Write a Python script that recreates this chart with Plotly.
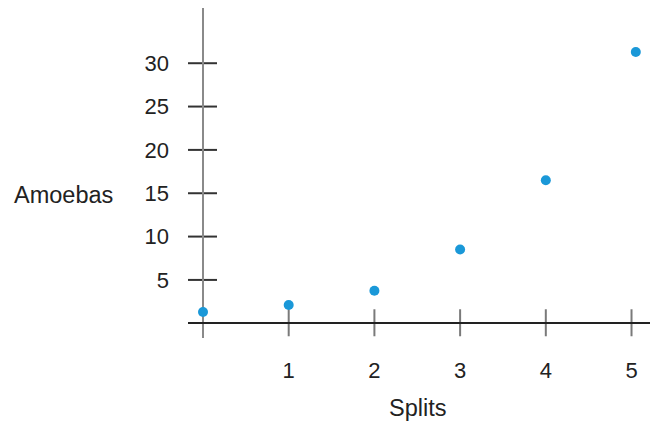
import plotly.graph_objects as go

splits = [0, 1, 2, 3, 4, 5.05]
amoebas = [1.3, 2.1, 3.75, 8.5, 16.5, 31.3]
x_ticks = [1, 2, 3, 4, 5]
y_ticks = [5, 10, 15, 20, 25, 30]

FONT = dict(family="Liberation Sans, Arial, sans-serif", size=22, color="#222222")
TITLE_FONT = dict(family="Liberation Sans, Arial, sans-serif", size=23.5, color="#222222")

fig = go.Figure()
fig.add_trace(go.Scatter(
    x=splits, y=amoebas, mode="markers",
    marker=dict(size=10, color="#1a98d8", line=dict(width=0)),
    cliponaxis=False, hoverinfo="x+y",
))

shapes = []
for t in [0] + x_ticks:
    shapes.append(dict(type="line", xref="x", yref="y", x0=t, x1=t,
                       ysizemode="pixel", yanchor=0, y0=-13, y1=14,
                       line=dict(color="#7a7a7a", width=2), layer="below"))
for t in y_ticks:
    shapes.append(dict(type="line", xref="x", yref="y", y0=t, y1=t,
                       xsizemode="pixel", xanchor=0, x0=-15, x1=14,
                       line=dict(color="#333333", width=2), layer="below"))

fig.update_layout(
    width=650, height=413,
    margin=dict(l=180, r=0, t=0, b=83),
    paper_bgcolor="white", plot_bgcolor="white",
    showlegend=False,
    font=FONT,
    shapes=shapes,
    xaxis=dict(range=[-0.175, 5.309], tickvals=x_ticks, ticktext=[str(v) for v in x_ticks],
               showgrid=False, showline=False, ticks="", zeroline=True,
               zerolinecolor="#8a8a8a", zerolinewidth=2, ticklabelstandoff=17,
               tickfont=FONT),
    yaxis=dict(range=[-1.7, 36.37], tickvals=y_ticks, ticktext=[str(v) for v in y_ticks],
               showgrid=False, showline=False, ticks="", zeroline=True,
               zerolinecolor="#222222", zerolinewidth=1.5, ticklabelstandoff=18,
               tickfont=FONT),
    annotations=[
        dict(text="Amoebas", xref="paper", yref="y", x=-0.3745, y=14.8,
             xanchor="left", yanchor="middle", showarrow=False, font=TITLE_FONT),
        dict(text="Splits", xref="x", yref="paper", x=2.5, y=-0.212,
             xanchor="center", yanchor="middle", showarrow=False, font=TITLE_FONT),
    ],
)

fig.write_html("out.html")
